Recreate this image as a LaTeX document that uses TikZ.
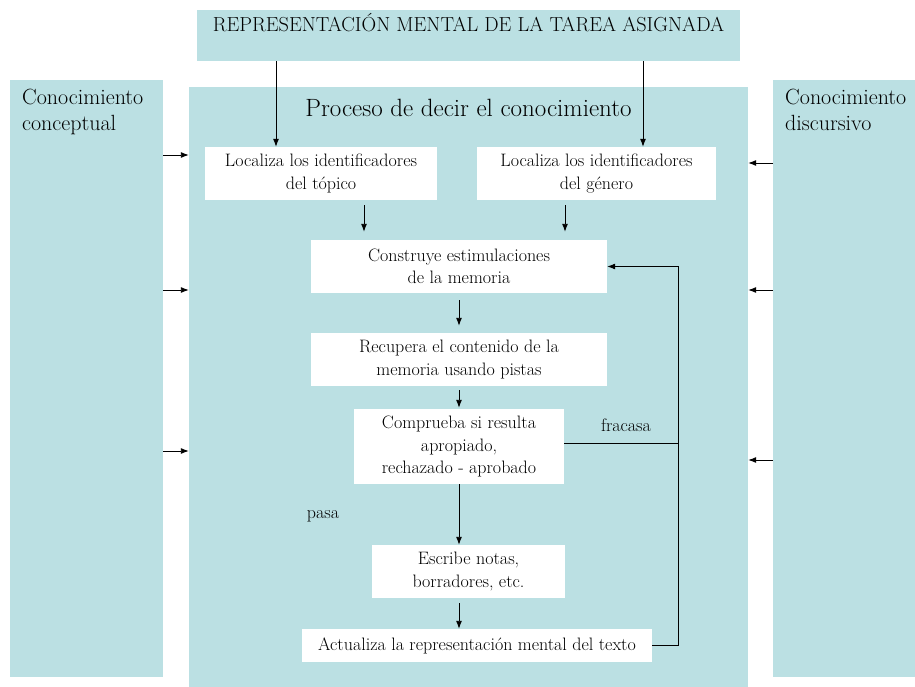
\documentclass[tikz,border=0pt]{standalone}
\usepackage{fontspec}
\usepackage{xcolor}
\usepackage{tikz}
\usetikzlibrary{arrows.meta, positioning}
\definecolor{panelcolor}{RGB}{187,224,227}

\begin{document}
\begin{tikzpicture}[x=1pt, y=-1pt,
    panel/.style={fill=panelcolor, inner sep=0pt},
    stepbox/.style={fill=white, align=center, inner sep=2pt, font=\fontsize{18}{22.5}\selectfont},
    lbl/.style={font=\fontsize{18}{22.5}\selectfont},
    arr/.style={-{Latex[length=8pt,width=6pt]}, line width=0.9pt}]
    \useasboundingbox (0,0) rectangle (915,687);

    % Side columns and panels
    \node[panel, anchor=north west, inner xsep=12pt, inner ysep=8.5pt] (concep) at (10,80)
        {\begin{minipage}[t][580pt][t]{129pt}\fontsize{22}{26}\selectfont Conocimiento\\conceptual\end{minipage}};
    \node[panel, anchor=north west, inner xsep=12pt, inner ysep=8.5pt] (discur) at (773,80)
        {\begin{minipage}[t][580pt][t]{118pt}\fontsize{22}{26}\selectfont Conocimiento\\discursivo\end{minipage}};
    \node[panel, anchor=north, minimum width=559pt, text height=29pt, text depth=571pt,
        font=\fontsize{25}{30}\selectfont] (proceso) at (468.5,87) {Proceso de decir el conocimiento};
    \node[panel, anchor=north, minimum width=543pt, inner ysep=9pt, text height=12pt, text depth=21pt,
        font=\fontsize{20.3}{24}\selectfont] (tarea) at (468.5,10) {REPRESENTACIÓN MENTAL DE LA TAREA ASIGNADA};

    % Steps
    \node[stepbox, minimum width=232pt, minimum height=53pt] (loctop) at (321,173.5) {Localiza los identificadores\\del tópico};
    \node[stepbox, minimum width=239pt, minimum height=53pt] (locgen) at (596.5,173.5) {Localiza los identificadores\\del género};
    \node[stepbox, minimum width=296pt, minimum height=53pt] (construye) at (459,266.5) {Construye estimulaciones\\de la memoria};
    \node[stepbox, minimum width=296pt, minimum height=53pt] (recupera) at (459,359.5) {Recupera el contenido de la\\memoria usando pistas};
    \node[stepbox, minimum width=210pt, minimum height=75pt] (comprueba) at (459,446.5) {Comprueba si resulta\\apropiado,\\rechazado - aprobado};
    \node[stepbox, minimum width=193pt, minimum height=53pt] (escribe) at (468.5,571.5) {Escribe notas,\\borradores, etc.};
    \node[stepbox, minimum width=350pt, minimum height=33pt] (actualiza) at (477,645.5) {Actualiza la representación mental del texto};

    \node[lbl] (fracasa) at (626,425) {fracasa};
    \node[lbl] (pasa) at (323,516) {pasa};

    % From the task down to the identifiers
    \path ([xshift=-45pt]loctop.north) coordinate (t1) ([xshift=46.5pt]locgen.north) coordinate (t2);
    \draw[arr] (tarea.south -| t1) -- (t1);
    \draw[arr] (tarea.south -| t2) -- (t2);

    % Main flow
    \path ([xshift=43pt]loctop.south) coordinate (b1) ([xshift=-31.5pt]locgen.south) coordinate (b2);
    \draw[arr, shorten <=5pt, shorten >=8pt] (b1) -- (b1 |- construye.north);
    \draw[arr, shorten <=5pt, shorten >=8pt] (b2) -- (b2 |- construye.north);
    \draw[arr, shorten <=7pt, shorten >=7pt] (construye) -- (recupera);
    \draw[arr, shorten <=4pt, shorten >=1pt] (recupera) -- (comprueba);
    \draw[arr] (comprueba.south) -- (comprueba.south |- escribe.north);
    \path ([xshift=-9.5pt]escribe.south) coordinate (e1);
    \draw[arr, shorten <=5pt] (e1) -- (e1 |- actualiza.north);

    % Feedback loop
    \coordinate (fb) at (678,0);
    \draw[line width=0.9pt] ([yshift=3.5pt]comprueba.east) -- ([yshift=3.5pt]comprueba.east -| fb);
    \draw[arr] (actualiza.east) -- (actualiza.east -| fb) -- (construye.east -| fb) -- (construye.east);

    % Knowledge sources
    \foreach \y in {155,290,451}
        \draw[arr] (concep.east |- 0,\y) -- (proceso.west |- 0,\y);
    \foreach \y in {163,290,460}
        \draw[arr] (discur.west |- 0,\y) -- (proceso.east |- 0,\y);
\end{tikzpicture}
\end{document}
